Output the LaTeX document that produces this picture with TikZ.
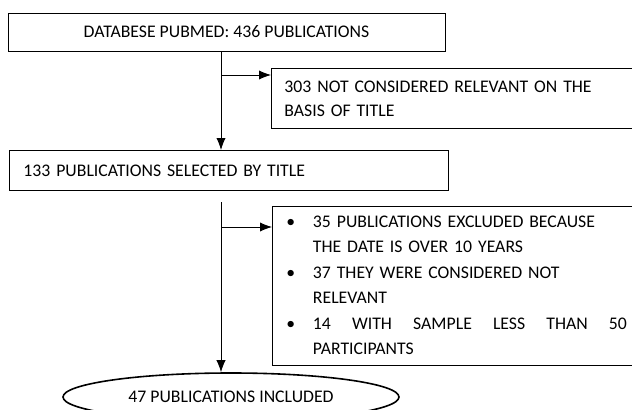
\documentclass[tikz,border=0pt]{standalone}
\usepackage{fontspec}
\setmainfont{Carlito}
\usepackage{array}
\usetikzlibrary{arrows.meta,shapes.geometric}

\begin{document}
\begin{tikzpicture}[
x=0.75pt, y=-0.75pt,
box/.style={draw, line width=0.65pt, inner sep=0pt, font=\fontsize{13.3}{18}\selectfont},
endbox/.style={draw, ellipse, line width=1.2pt, inner sep=0pt, minimum width=252pt, minimum height=36pt, font=\fontsize{13.3}{15}\selectfont},
arrow/.style={-{Latex[length=9pt,width=7pt]}, line width=0.7pt}
]
\useasboundingbox (0,0) rectangle (632,410);
\clip (0,0) rectangle (632,410);
\node[box, minimum width=327.75pt, minimum height=28.5pt, align=center] (db) at (226.5,32) {DATABESE PUBMED: 436 PUBLICATIONS};
\node[box, anchor=north west, minimum height=45pt, text width=260pt, inner xsep=9.75pt, align=left] (notrel) at (271,68) {303 NOT CONSIDERED RELEVANT ON THE\\BASIS OF TITLE};
\node[box, anchor=north west, minimum height=30pt, text width=308.25pt, inner xsep=10.5pt, align=left] (sel) at (9,150) {133 PUBLICATIONS SELECTED BY TITLE};
\node[box, anchor=north west, minimum height=119.25pt, text width=255.4pt, inner xsep=10.5pt, align=left, font=\fontsize{13.3}{19.1}\selectfont] (excl) at (272,206) {%
\begin{tabular}{@{}p{19.9pt}@{}p{235.5pt}@{}}
\textbullet & 35 PUBLICATIONS EXCLUDED BECAUSE\\
 & THE DATE IS OVER 10 YEARS\\
\textbullet & 37 THEY WERE CONSIDERED NOT\\
 & RELEVANT\\
\textbullet & 14\hfill WITH\hfill SAMPLE\hfill LESS\hfill THAN\hfill 50\\
 & PARTICIPANTS
\end{tabular}};
\node[endbox] (incl) at (231,397) {47 PUBLICATIONS INCLUDED};
\coordinate (split1) at (221,75);
\coordinate (split2) at (221,227);
\coordinate (gap2) at (221,202);
\draw[arrow] (db.south -| split1) -- (sel.north -| split1);
\draw[arrow] (split1) -- (split1 -| notrel.west);
\draw[arrow] (gap2) -- (gap2 |- incl.north);
\draw[arrow] (split2) -- (split2 -| excl.west);
\end{tikzpicture}
\end{document}
